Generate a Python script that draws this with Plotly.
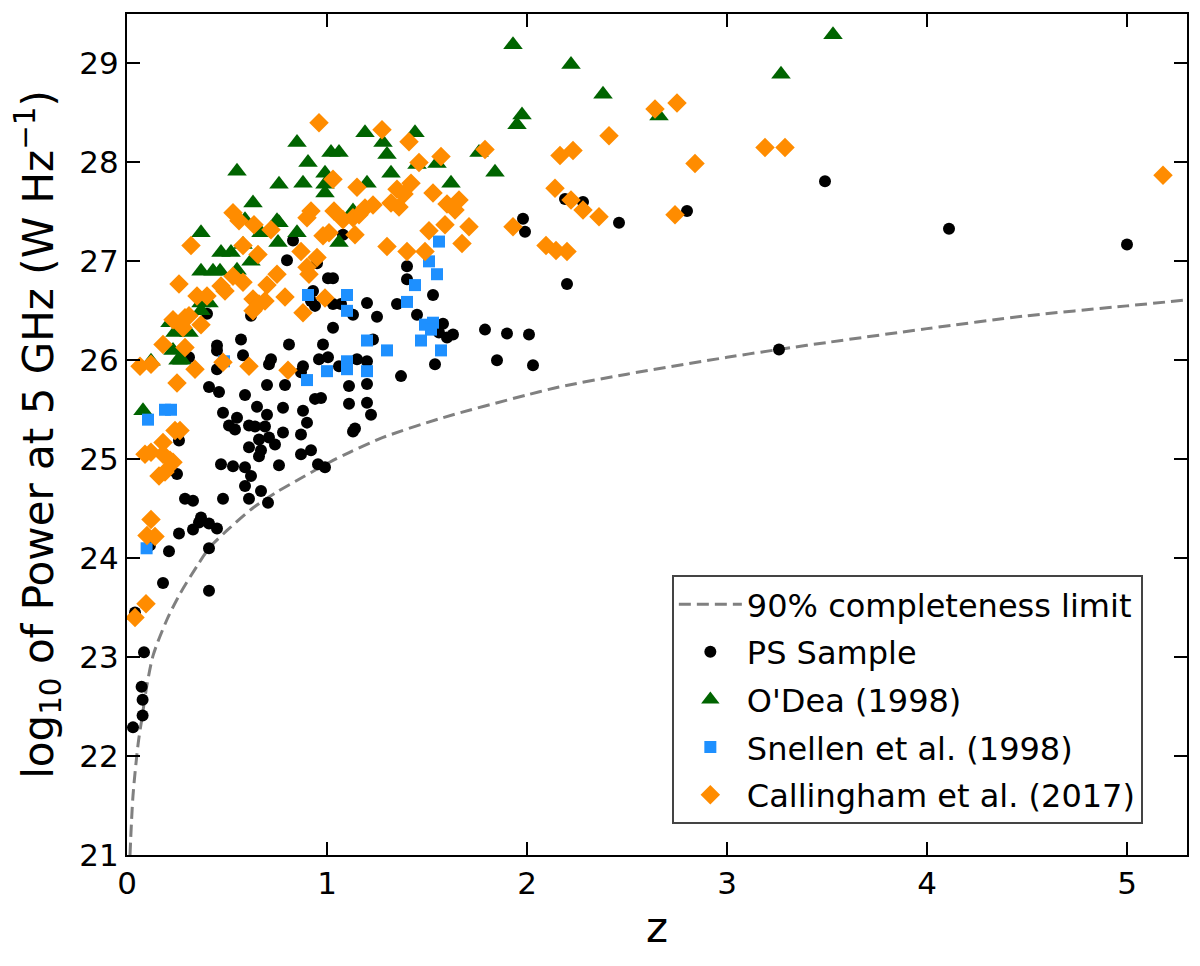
import plotly.graph_objects as go

# completeness limit
limit_z = [0.015, 0.03, 0.056, 0.073, 0.1, 0.131, 0.2, 0.265, 0.35, 0.414, 0.5, 0.631,
           0.75, 0.88, 1.013, 1.113, 1.28, 1.58, 2.0, 2.16, 2.5, 3.0, 3.26, 3.5, 4.0,
           4.5, 5.0, 5.3]
limit_logp = [21.0, 21.6, 22.13, 22.36, 22.72, 23.02, 23.38, 23.64, 23.92, 24.11, 24.28, 24.51,
              24.67, 24.82, 24.97, 25.07, 25.22, 25.42, 25.65, 25.73, 25.86, 26.03, 26.11, 26.18, 26.32,
              26.45, 26.55, 26.61]

# (z, log10 P) pairs
ps_sample = [
    (5.00, 27.17), (4.11, 27.33), (3.49, 27.81), (3.26, 26.11), (2.80, 27.51), (2.46, 27.39),
    (2.28, 27.60), (2.19, 27.63), (2.20, 26.77), (1.98, 27.43), (1.99, 27.30),
    (1.005, 26.83), (1.03, 26.83), (1.40, 26.82), (1.53, 26.66), (0.93, 26.70), (0.92, 26.60),
    (0.94, 26.55), (1.03, 26.57), (1.07, 26.57), (1.20, 26.58), (1.35, 26.57), (1.13, 26.46),
    (1.25, 26.44), (1.45, 26.46), (1.58, 26.37), (1.56, 26.28), (1.60, 26.23), (1.63, 26.26),
    (1.79, 26.31), (1.90, 26.27), (2.01, 26.26), (1.85, 26.00), (2.03, 25.95), (1.54, 25.96),
    (1.03, 26.33), (0.98, 26.16), (1.23, 26.21), (0.96, 26.01), (1.005, 26.03), (0.88, 25.94),
    (1.06, 25.94), (1.15, 26.01), (1.20, 25.99), (1.37, 25.84), (1.11, 25.74), (1.20, 25.76),
    (0.94, 25.61), (0.97, 25.62), (1.11, 25.56), (1.20, 25.57), (0.88, 25.49), (1.22, 25.45),
    (0.90, 25.37), (1.14, 25.31), (1.13, 25.28), (0.87, 25.25), (0.92, 25.09), (0.87, 25.05),
    (0.955, 24.95), (0.99, 24.92),
    (0.40, 26.47), (0.62, 26.45), (0.57, 26.21), (0.81, 26.16), (0.45, 26.15), (0.45, 26.10),
    (0.58, 26.05), (0.72, 26.01), (0.71, 25.96), (0.31, 26.03), (0.45, 25.91), (0.87, 25.88),
    (0.41, 25.73), (0.46, 25.68), (0.70, 25.75), (0.79, 25.75), (0.59, 25.65), (0.65, 25.53),
    (0.78, 25.52), (0.48, 25.47), (0.70, 25.45), (0.55, 25.42), (0.51, 25.34), (0.54, 25.30),
    (0.61, 25.34), (0.64, 25.33), (0.69, 25.33), (0.78, 25.27), (0.66, 25.20), (0.71, 25.22),
    (0.74, 25.15), (0.61, 25.12), (0.67, 25.09), (0.66, 25.03), (0.47, 24.95), (0.53, 24.93),
    (0.59, 24.92), (0.76, 24.94), (0.62, 24.83), (0.59, 24.73), (0.67, 24.68), (0.29, 24.60),
    (0.33, 24.58), (0.48, 24.60), (0.61, 24.60), (0.705, 24.56),
    (0.26, 25.19), (0.25, 24.85), (0.22, 24.89), (0.37, 24.41), (0.36, 24.36), (0.41, 24.35),
    (0.45, 24.30), (0.33, 24.29), (0.26, 24.25), (0.41, 24.10), (0.21, 24.07), (0.115, 24.13),
    (0.18, 23.75), (0.41, 23.67), (0.04, 23.45), (0.085, 23.05), (0.073, 22.70), (0.078, 22.57),
    (0.078, 22.41), (0.03, 22.29),
    (0.83, 27.21), (0.80, 27.01), (1.08, 27.27), (1.40, 26.95), (0.95, 26.98),
]

odea_1998 = [
    (3.53, 29.29), (3.27, 28.89), (1.93, 29.19), (2.22, 28.99), (2.38, 28.69), (2.66, 28.47),
    (1.975, 28.48), (1.95, 28.38), (1.19, 28.30), (1.28, 28.20), (1.30, 28.08), (1.44, 28.30),
    (1.45, 27.98), (1.55, 27.99), (1.76, 28.10), (1.84, 27.90), (1.02, 28.10), (1.06, 28.10),
    (0.905, 28.00), (0.85, 28.20), (0.99, 27.89), (1.32, 27.89), (1.62, 27.79), (0.88, 27.79),
    (0.99, 27.78), (0.99, 27.69), (1.20, 27.79), (1.13, 27.51), (1.06, 27.19), (0.76, 27.78),
    (0.63, 27.59), (0.59, 27.42), (0.75, 27.41), (0.76, 27.39), (0.67, 27.29), (0.755, 27.19),
    (0.85, 27.29), (0.37, 27.29), (0.47, 27.09), (0.52, 27.09), (0.58, 27.17), (0.62, 27.00),
    (0.37, 26.90), (0.43, 26.90), (0.465, 26.90), (0.55, 26.91), (0.37, 26.58), (0.41, 26.58),
    (0.37, 26.50), (0.215, 26.38), (0.24, 26.28), (0.31, 26.28), (0.23, 26.10), (0.255, 26.00),
    (0.275, 26.00), (0.12, 25.99), (0.08, 25.49), (0.55, 27.91),
]

snellen_1998 = [
    (1.55, 26.87), (1.44, 26.76), (0.905, 26.66), (1.10, 26.66), (1.10, 26.50), (1.40, 26.59),
    (1.49, 26.36), (1.53, 26.38), (1.52, 26.31), (1.47, 26.20), (1.57, 26.10), (1.20, 26.20),
    (1.30, 26.10), (1.10, 25.99), (1.10, 25.91), (1.20, 25.89), (1.00, 25.89), (0.90, 25.80),
    (1.56, 27.20), (1.51, 27.00), (0.485, 25.99), (0.19, 25.50), (0.22, 25.50), (0.105, 25.40),
    (0.098, 24.10),
]

callingham_2017 = [
    (5.18, 27.87), (3.19, 28.15), (3.29, 28.15), (2.64, 28.54), (2.75, 28.60), (2.41, 28.27),
    (2.84, 27.99), (2.165, 28.07), (2.23, 28.12), (2.14, 27.74), (2.22, 27.62), (2.28, 27.52),
    (2.36, 27.45), (2.74, 27.47), (2.095, 27.16), (2.145, 27.11), (2.20, 27.10),
    (0.96, 28.40), (1.275, 28.33), (1.41, 28.21), (1.79, 28.13), (1.57, 28.06), (1.46, 28.00),
    (1.03, 27.83), (1.15, 27.75), (1.42, 27.79), (1.35, 27.73), (1.385, 27.68), (1.53, 27.69),
    (1.66, 27.62), (1.60, 27.58), (1.64, 27.52), (1.32, 27.59), (1.36, 27.55), (1.23, 27.57),
    (1.19, 27.54), (0.92, 27.51), (0.90, 27.44), (1.035, 27.51), (1.08, 27.42), (1.13, 27.44),
    (1.16, 27.47), (1.59, 27.37), (1.71, 27.35), (1.51, 27.31), (1.93, 27.35), (0.98, 27.26),
    (1.01, 27.29), (1.14, 27.27), (1.30, 27.15), (1.40, 27.10), (1.49, 27.10), (1.675, 27.18),
    (0.87, 27.10), (0.95, 27.04), (0.90, 26.94), (0.91, 26.87), (0.99, 26.63),
    (0.53, 27.49), (0.56, 27.41), (0.635, 27.37), (0.72, 27.32), (0.32, 27.16), (0.58, 27.16),
    (0.655, 27.07), (0.53, 26.85), (0.58, 26.79), (0.75, 26.87), (0.70, 26.76), (0.47, 26.75),
    (0.49, 26.70), (0.26, 26.77), (0.35, 26.65), (0.40, 26.65), (0.79, 26.64), (0.63, 26.62),
    (0.66, 26.57), (0.69, 26.60), (0.63, 26.50), (0.88, 26.48), (0.23, 26.41), (0.29, 26.43),
    (0.31, 26.45), (0.28, 26.33), (0.37, 26.36), (0.18, 26.16), (0.29, 26.13), (0.065, 25.94),
    (0.12, 25.96), (0.34, 25.91), (0.61, 25.94), (0.805, 25.90), (0.48, 25.98), (0.25, 25.77),
    (0.24, 25.29), (0.265, 25.29), (0.18, 25.17), (0.09, 25.05), (0.12, 25.07), (0.18, 25.05),
    (0.215, 24.99), (0.23, 24.97), (0.16, 24.83), (0.19, 24.87), (0.12, 24.39), (0.10, 24.23),
    (0.14, 24.22), (0.095, 23.54), (0.04, 23.40),
]

FONT = "DejaVu Sans"


def xs(pairs):
    return [p[0] for p in pairs]


def ys(pairs):
    return [p[1] for p in pairs]


fig = go.Figure()

fig.add_trace(go.Scatter(
    x=limit_z, y=limit_logp, mode="lines", name="90% completeness limit",
    line=dict(color="#808080", width=3, dash="12px,6px", shape="spline", smoothing=0.8),
    legendgroup="a",
))
fig.add_trace(go.Scatter(
    x=xs(ps_sample), y=ys(ps_sample), mode="markers", name="PS Sample",
    marker=dict(symbol="circle", size=12, color="black", line=dict(width=0)), legendgroup="b",
))
fig.add_trace(go.Scatter(
    x=xs(odea_1998), y=ys(odea_1998), mode="markers", name="O'Dea (1998)",
    marker=dict(symbol="triangle-up", size=17, color="#006400", line=dict(width=0)), legendgroup="c",
))
fig.add_trace(go.Scatter(
    x=xs(snellen_1998), y=ys(snellen_1998), mode="markers", name="Snellen et al. (1998)",
    marker=dict(symbol="square", size=12, color="#1E90FF", line=dict(width=0)), legendgroup="d",
))
fig.add_trace(go.Scatter(
    x=xs(callingham_2017), y=ys(callingham_2017), mode="markers", name="Callingham et al. (2017)",
    marker=dict(symbol="diamond", size=15, color="#FF8C00", line=dict(width=0)), legendgroup="e",
))

axis_style = dict(
    showline=True, linewidth=2, linecolor="black", mirror="ticks",
    ticks="inside", ticklen=13, tickwidth=2, tickcolor="black",
    showgrid=False, zeroline=False, automargin=False,
    tickfont=dict(family=FONT, size=31, color="black"),
)

fig.update_xaxes(
    range=[0, 5.3], tickvals=[0, 1, 2, 3, 4, 5],
    title=dict(text="z", font=dict(family=FONT, size=42, color="black"), standoff=12),
    **axis_style,
)
fig.update_yaxes(
    range=[21, 29.5], tickvals=[21, 22, 23, 24, 25, 26, 27, 28, 29],
    title=dict(text="log<sub>10</sub> of Power at 5 GHz (W Hz<sup>−1</sup>)",
               font=dict(family=FONT, size=42, color="black"), standoff=14),
    **axis_style,
)

# the page body adds an 8px offset, so the figure is a little smaller than the window
fig.update_layout(
    width=1184, height=950,
    margin=dict(l=119, r=5, t=6, b=103),
    plot_bgcolor="white", paper_bgcolor="white",
    font=dict(family=FONT, color="black"),
    legend=dict(
        x=0.514, y=0.333, xanchor="left", yanchor="top",
        font=dict(family=FONT, size=32, color="black"),
        bordercolor="#444444", borderwidth=2, bgcolor="white",
        itemwidth=63, traceorder="grouped", tracegroupgap=3,
    ),
)

fig.write_html("out.html")
